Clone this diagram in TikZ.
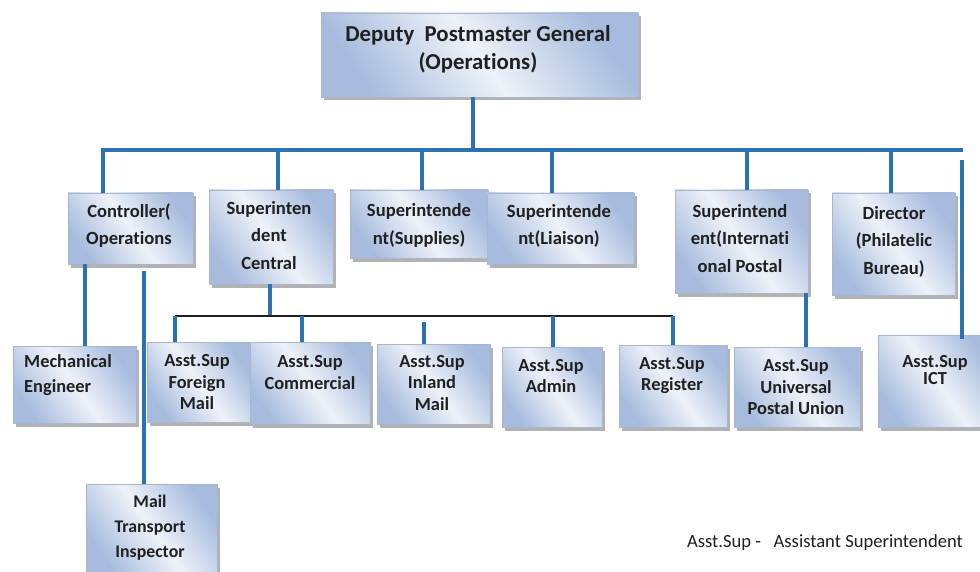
\documentclass[tikz,border=0pt]{standalone}
\usepackage{fontspec}
\setmainfont{Carlito}[Ligatures=NoCommon]
\usetikzlibrary{shadows}

\definecolor{boxblue}{RGB}{166,187,221}
\definecolor{boxlight}{RGB}{238,242,249}
\definecolor{boxedge}{RGB}{170,182,204}
\definecolor{linkblue}{RGB}{42,114,178}
\definecolor{ink}{RGB}{32,32,32}

% box given by its left, top, right and bottom edges (in px, y downwards)
\newcommand\orgbox[5]{%
  \node[box, minimum width={#4pt-#2pt}, minimum height={#5pt-#3pt}]
    (#1) at ({(#2+#4)/2},{(#3+#5)/2}) {};}

\begin{document}
\begin{tikzpicture}[x=1pt,y=-1pt,
  box/.style={draw=boxedge, line width=0.6pt,
    left color=boxblue, right color=boxblue, middle color=boxlight,
    shading angle=125,
    drop shadow={shadow xshift=3pt, shadow yshift=-3.5pt, fill=black!55, opacity=0.55},
    inner sep=0pt, outer sep=0pt},
  lbl/.style={font=\bfseries\fontsize{18.6}{27.5}\selectfont, align=center,
    inner sep=0pt, text=ink},
  lblsm/.style={lbl, font=\bfseries\fontsize{18.4}{21.5}\selectfont},
  link/.style={draw=linkblue, line width=3.2pt},
  sublink/.style={draw=ink, line width=1.6pt}]

\fill[white] (0,0) rectangle (980,572);
\useasboundingbox (0,0) rectangle (980,572);

% ---- boxes ----
\orgbox{dpg}{321}{13}{638}{97}
\orgbox{ctrl}{68}{193}{193}{264}
\orgbox{cent}{209}{190}{333}{284}
\orgbox{supp}{350}{190}{488}{258}
\orgbox{liai}{487}{193}{634}{264}
\orgbox{intl}{675}{190}{808}{293}
\orgbox{dir}{832}{193}{955}{295}
\orgbox{mech}{13}{346}{136}{423}
\orgbox{frn}{147}{342}{250}{422}
\orgbox{com}{250}{342}{370}{424}
\orgbox{inl}{377}{344}{490}{424}
\orgbox{adm}{502}{347}{602}{427}
\orgbox{reg}{619}{345}{727}{427}
\orgbox{upu}{734}{347}{860}{427}
\orgbox{ict}{878}{335}{995}{427}
\orgbox{mti}{86}{484}{217}{572}

% ---- texts ----
\node[lbl, font=\bfseries\fontsize{22.8}{28}\selectfont] (dpg-t) at (478,49)
  {Deputy\ \ Postmaster General\\(Operations)};
\node[lbl] (ctrl-t) at (129,225.5) {Controller(\\Operations};
\node[lbl] (cent-t) at (269,235.5) {Superinten\\dent\\Central};
\node[lbl] (supp-t) at (419,225.5) {Superintende\\nt(Supplies)};
\node[lbl] (liai-t) at (559,226) {Superintende\\nt(Liaison)};
\node[lbl] (intl-t) at (740,238.5) {Superintend\\ent(Internati\\onal Postal};
\node[lbl] (dir-t) at (894,241.5) {Director\\(Philatelic\\Bureau)};
\node[lbl, font=\bfseries\fontsize{18.4}{25}\selectfont, align=left, anchor=west]
  (mech-t) at (24,375.5) {Mechanical\\Engineer};
\node[lblsm] (frn-t) at (197,382.5) {Asst.Sup\\Foreign\\Mail};
\node[lblsm] (com-t) at (310,372.5) {Asst.Sup\\Commercial};
\node[lblsm] (inl-t) at (432,383) {Asst.Sup\\Inland\\Mail};
\node[lblsm] (adm-t) at (551,376) {Asst.Sup\\Admin};
\node[lblsm] (reg-t) at (672,375.5) {Asst.Sup\\Register};
\node[lblsm] (upu-t) at (796,387.5) {Asst.Sup\\Universal\\Postal Union};
\node[lbl, font=\bfseries\fontsize{18.4}{17.5}\selectfont] (ict-t) at (935,370) {Asst.Sup\\ICT};
\node[lbl, font=\bfseries\fontsize{17.8}{25}\selectfont] (mti-t) at (150,527.5) {Mail\\Transport\\Inspector};

\node[font=\fontsize{18.6}{20}\selectfont, inner sep=0pt, text=ink] (legend) at (825,543)
  {Asst.Sup -\ \ \ Assistant Superintendent};

% ---- connectors: top level ----
\coordinate (b-dpg)  at (473,150);
\coordinate (b-ctrl) at (103,150);
\coordinate (b-cent) at (278,150);
\coordinate (b-supp) at (422,150);
\coordinate (b-liai) at (552,150);
\coordinate (b-intl) at (747,150);
\coordinate (b-dir)  at (891,150);
\coordinate (busR)   at (963,150);

\draw[link] (b-dpg |- dpg.south) -- (b-dpg);
\draw[link] (b-ctrl |- ctrl.north) -- (b-ctrl) -- (busR);
\foreach \n in {cent,supp,liai,intl,dir}
  \draw[link] (b-\n) -- (b-\n |- \n.north);

\coordinate (k-ict) at (962,160);
\draw[link] (k-ict) -- ([yshift=-4pt]k-ict |- ict.north);

% ---- connectors: under the Controller ----
\coordinate (k-mech) at (85,300);
\coordinate (k-mti)  at (144,271);
\draw[link] (k-mech |- ctrl.south) -- (k-mech |- mech.north);
\draw[link] (k-mti) -- (k-mti |- mti.north);

% ---- connectors: under Superintendent Central ----
\coordinate (k-cent) at (270,316);
\coordinate (sbL) at (175,316);
\coordinate (sbR) at (673,316);
\coordinate (k-com) at (302,316);
\coordinate (k-inl) at (424,322);
\coordinate (k-adm) at (553,316);
\draw[link] (k-cent |- cent.south) -- (k-cent);
\draw[sublink] (sbL) -- (sbR);
\draw[link] (sbL) -- (sbL |- frn.north);
\draw[link] (k-com) -- (k-com |- com.north);
\draw[link] (k-inl) -- (k-inl |- inl.north);
\draw[link] (k-adm) -- (k-adm |- adm.north);
\draw[link] (sbR) -- (sbR |- reg.north);

% ---- connector: International Postal to UPU ----
\coordinate (k-upu) at (806,300);
\draw[link] (k-upu |- intl.south) -- (k-upu |- upu.north);

\end{tikzpicture}
\end{document}
